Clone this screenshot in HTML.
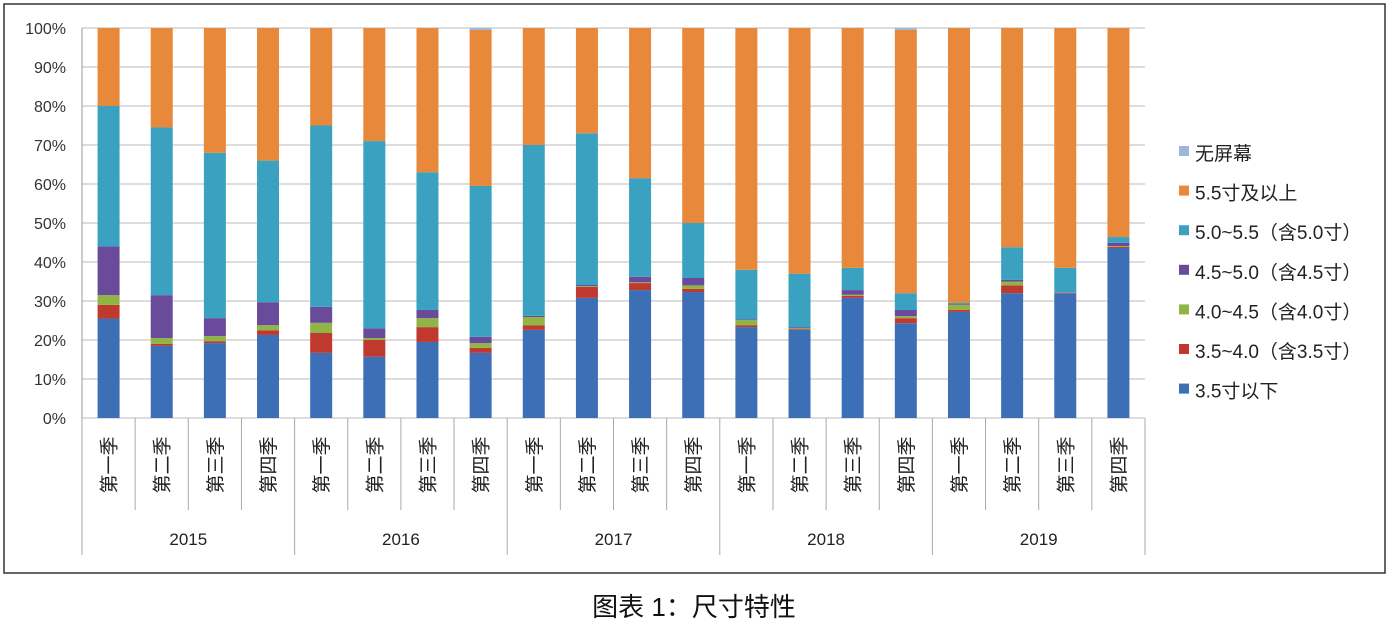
<!DOCTYPE html>
<html><head><meta charset="utf-8"><style>
body{margin:0;background:#fff;width:1389px;height:631px;overflow:hidden;font-family:"Liberation Sans","Noto Sans CJK SC",sans-serif}
</style></head><body>
<svg id="c" width="1389" height="631" style="position:absolute;left:0;top:0"></svg>
<script>
const years=["2015","2016","2017","2018","2019"];
const quarters=["第一季","第二季","第三季","第四季"];
const seriesNames=["3.5寸以下","3.5~4.0（含3.5寸）","4.0~4.5（含4.0寸）","4.5~5.0（含4.5寸）","5.0~5.5（含5.0寸）","5.5寸及以上","无屏幕"];
const colors=["#3d6fb6","#c0392f","#8fb545","#6a4a9a","#3aa2c0","#e8883a","#9db7dc"];
const s35=[25.5,18.5,19.2,21.3,16.7,15.7,19.5,16.7,22.6,30.8,32.8,32.3,23.3,22.6,30.8,24.3,27.2,32,32,43.6];
const s40=[3.5,0.5,0.5,1.2,5.1,4.3,3.8,1.3,1.2,2.8,1.8,0.8,0.5,0.2,0.5,1.3,0.5,2,0.1,0.3];
const s45=[2.5,1.5,1.3,1.3,2.6,0.5,2.3,1.2,2.1,0.2,0.2,0.9,1.3,0.2,0.3,0.5,1.3,1,0.1,0.2];
const s50=[12.5,11,4.6,5.9,4.1,2.5,2.1,1.6,0.3,0.3,1.4,1.9,0.2,0.2,1.2,1.6,0.2,0.4,0.1,0.8];
const s55=[36,43,42.4,36.3,46.5,48,35.3,38.7,43.8,38.9,25.3,14.1,12.7,13.8,5.7,4.3,0.3,8.4,6.2,1.5];
const s55p=[20,25.5,32,34,25,29,37,40,30,27,38.5,50,62,63,61.5,67.5,70.5,56.2,61.5,53.6];
const sNone=[0,0,0,0,0,0,0,0.5,0,0,0,0,0,0,0,0.5,0,0,0,0];
const series=[s35,s40,s45,s50,s55,s55p,sNone];
const NS="http://www.w3.org/2000/svg";
const svg=document.getElementById('c');
function el(t,a,p){const e=document.createElementNS(NS,t);for(const k in a)e.setAttribute(k,a[k]);(p||svg).appendChild(e);return e;}
const X0=82,X1=1145,Y0=418,Y1=28,BW=22;
const n=years.length*quarters.length;const step=(X1-X0)/n;
const y=v=>Y0-(v/100)*(Y0-Y1);
const xc=i=>X0+step*(i+0.5);
let f=el('rect',{x:4,y:4,width:1381,height:569,fill:'none',stroke:'#333','stroke-width':1.5});


for(let t=0;t<=100;t+=10){
 const g=el('line',{x1:X0,x2:X1,y1:y(t),y2:y(t),stroke:'#bbb','stroke-width':1});
 
 
 const tx=el('text',{x:66,y:y(t)+6,'text-anchor':'end','font-size':16,fill:'#333'});tx.textContent=t+'%';
 
 
}
el('line',{x1:X0,x2:X0,y1:Y1,y2:Y0,stroke:'#999'});
for(let i=0;i<n;i++){
 let acc=0;
 for(let s=0;s<series.length;s++){
  const v=series[s][i];if(v<=0)continue;
  const r=el('rect',{x:xc(i)-BW/2,y:y(acc+v),width:BW,height:y(acc)-y(acc+v),fill:colors[s]});
  
  
  acc+=v;
 }
 const q=el('text',{transform:`translate(${xc(i)+7},465) rotate(-90)`,'text-anchor':'middle','font-size':19,fill:'#222'});
 q.textContent=quarters[i%4];
 
 
}
for(let i=0;i<=n;i++){
 const yb=(i%4===0)?555:510;
 el('line',{x1:X0+step*i,x2:X0+step*i,y1:Y0,y2:yb,stroke:'#aaa'});
}
years.forEach((yr,k)=>{
 const t=el('text',{x:X0+step*(k*4+2),y:545,'text-anchor':'middle','font-size':17,fill:'#222'});t.textContent=yr;
 
 
});
for(let s=6;s>=0;s--){
 const idx=6-s;const ly=153+idx*39.6;
 const g=el('g',{});
 
 
 el('rect',{x:1179,y:ly-7,width:10,height:10,fill:colors[s]},g);
 const t=el('text',{x:1195,y:ly+7,'font-size':19,fill:'#222'},g);t.textContent=seriesNames[s];
}
const cap=el('text',{x:694,y:616,'text-anchor':'middle','font-size':26,fill:'#111'});
cap.textContent='图表 1：尺寸特性';


</script>
</body></html>
